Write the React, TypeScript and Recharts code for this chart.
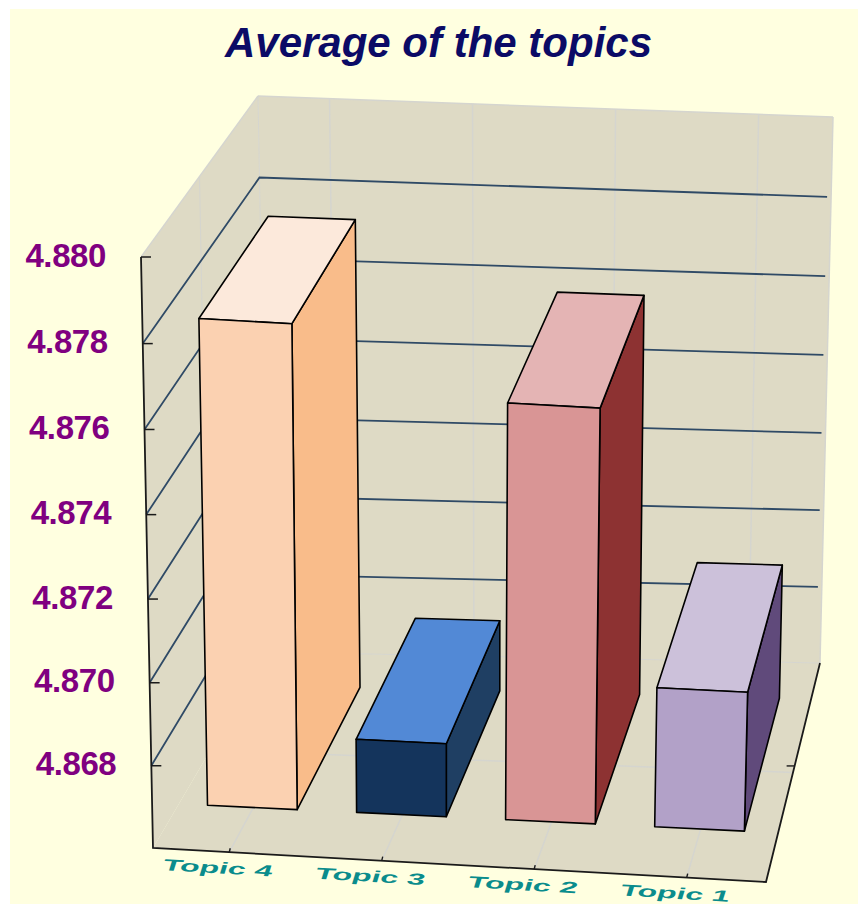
import React from 'react';
import { BarChart, Bar, XAxis, YAxis, Customized } from 'recharts';

const TITLE = 'Average of the topics';
const categories = ['Topic 4', 'Topic 3', 'Topic 2', 'Topic 1'];
const averages = [4.87775, 4.86781, 4.87615, 4.86945];
const yTicks = [4.868, 4.87, 4.872, 4.874, 4.876, 4.878, 4.88];
const yDomain: [number, number] = [4.866, 4.88];
const frontFaces = ['#FBD1B1', '#14345C', '#D99595', '#B2A1C8'];
const topFaces = ['#FCE9DB', '#5289D6', '#E4B4B4', '#CCC1DA'];
const sideFaces = ['#F9BC8A', '#1F3F63', '#8D3232', '#604A7B'];

const rows = categories.map((name, i) => ({ name, value: averages[i] }));

// Plot rectangle handed to Recharts; its x/y are then projected into the 3D box.
const CW = 858, CH = 904, L = 100, T = 100, R = 100, B = 100;
const PW = CW - L - R, PH = CH - T - B;
const W0 = 0.225, W1 = 0.835;

type Pt = [number, number];
const C = {
  flb: [153, 848] as Pt, frb: [766, 882] as Pt, blb: [268, 652] as Pt, brb: [820, 663] as Pt,
  flt: [141, 257] as Pt, frt: [781, 297] as Pt, blt: [258, 96] as Pt, brt: [833, 117] as Pt,
};
const mix = (a: Pt, b: Pt, t: number): Pt => [a[0] + (b[0] - a[0]) * t, a[1] + (b[1] - a[1]) * t];
const P = (u: number, v: number, w: number): Pt => {
  const vv = v - 0.03 * v * (1 - v);
  const bottom = mix(mix(C.flb, C.frb, u), mix(C.blb, C.brb, u), w);
  const top = mix(mix(C.flt, C.frt, u), mix(C.blt, C.brt, u), w);
  return mix(bottom, top, vv);
};
const U = (px: number) => ((px - L) / PW) * 0.995 - 0.002;
const V = (py: number) => (T + PH - py) / PH;
const vOf = (val: number) => (val - yDomain[0]) / (yDomain[1] - yDomain[0]);
const pts = (list: Pt[]) => list.map((p) => p[0].toFixed(1) + ',' + p[1].toFixed(1)).join(' ');

const Seg = ({ a, b, stroke, w }: { a: Pt; b: Pt; stroke: string; w: number }) => (
  <line x1={a[0]} y1={a[1]} x2={b[0]} y2={b[1]} stroke={stroke} strokeWidth={w} />
);

const WALL = '#DEDAC5';
const EDGE = '#D5D5CF';
const GRID = '#2F4A66';
const AXIS = '#1A1A1A';

const Box = () => {
  const centers = categories.map((_, i) => (i + 0.5) / categories.length);
  return (
    <g>
      <text x={438.5} y={57} textAnchor="middle" fontFamily="Liberation Sans, Arial, sans-serif"
        fontWeight="bold" fontStyle="italic" fontSize={42} fill="#0B0B66">{TITLE}</text>
      <polygon points={pts([C.blb, C.brb, C.brt, C.blt])} fill={WALL} />
      <polygon points={pts([C.flb, C.blb, C.blt, C.flt])} fill={WALL} />
      <polygon points={pts([C.flb, C.frb, C.brb, C.blb])} fill={WALL} />
      <Seg a={C.flt} b={C.blt} stroke={EDGE} w={1.5} />
      <Seg a={C.blt} b={C.brt} stroke={EDGE} w={1.5} />
      <Seg a={C.brt} b={C.brb} stroke={EDGE} w={1.5} />
      <Seg a={P(0, 0, 0.5)} b={P(0, 1, 0.5)} stroke={EDGE} w={1} />
      <Seg a={C.blb} b={C.blt} stroke={EDGE} w={1} />
      <Seg a={P(0, 0, 0.5)} b={P(1, 0, 0.5)} stroke={EDGE} w={1.5} />
      <Seg a={C.blb} b={C.brb} stroke={EDGE} w={1} />
      {centers.map((u) => (
        <g key={u}>
          <Seg a={P(u * 0.995, 0, 0)} b={P(u * 0.995, 0, 1)} stroke={EDGE} w={1.5} />
          <Seg a={P(u * 0.995, 0, 1)} b={P(u * 0.995, 1, 1)} stroke={EDGE} w={1.5} />
        </g>
      ))}
      {yTicks.slice(0, -1).map((t) => {
        const v = vOf(t);
        return (
          <g key={t}>
            <polyline points={pts([P(0, v, 0), P(0, v, 1), P(0.993, v, 1)])} fill="none" stroke={GRID} strokeWidth={1.8} />
          </g>
        );
      })}
      <polyline points={pts([C.flt, C.flb, C.frb, C.brb])} fill="none" stroke={AXIS} strokeWidth={1.8} />
      {(() => {
        const a = P(1, 0, 0.53);
        return <Seg a={a} b={[a[0] - 8, a[1]]} stroke={AXIS} w={1.4} />;
      })()}
    </g>
  );
};

const YTick = (props: any) => {
  const val = props.payload.value as number;
  const a = P(0, vOf(val), 0);
  return (
    <g>
      <line x1={a[0]} y1={a[1]} x2={a[0] + 10} y2={a[1]} stroke={AXIS} strokeWidth={1.5} />
      <text x={a[0] - 35} y={a[1] - 2} textAnchor="end" dominantBaseline="central"
        fontFamily="Liberation Sans, Arial, sans-serif" fontWeight="bold" fontSize={33} letterSpacing={-0.4} fill="#800080">
        {val.toFixed(3)}
      </text>
    </g>
  );
};

const XTick = (props: any) => {
  const u = ((props.x as number) - L) / PW * 0.995;
  const a = P(u, 0, 0);
  return (
    <g>
      <line x1={a[0]} y1={a[1]} x2={a[0] + 1} y2={a[1] - 4} stroke={AXIS} strokeWidth={1.4} />
      <text transform={`translate(${a[0] - 13},${a[1] + 21}) rotate(3.4) skewX(-14) scale(2,1)`}
        textAnchor="middle" fontFamily="Liberation Sans, Arial, sans-serif" fontWeight="bold"
        fontSize={16} fill="#0A8C8C">
        {props.payload.value}
      </text>
    </g>
  );
};

const Bar3D = (props: any) => {
  const { x, y, width, index } = props;
  const u0 = U(x), u1 = U(x + width), v = V(y);
  const front = [P(u0, 0, W0), P(u1, 0, W0), P(u1, v, W0), P(u0, v, W0)];
  const side = [P(u1, 0, W0), P(u1, 0, W1), P(u1, v, W1), P(u1, v, W0)];
  const top = [P(u0, v, W0), P(u1, v, W0), P(u1, v, W1), P(u0, v, W1)];
  const common = { stroke: '#000', strokeWidth: 1.6, strokeLinejoin: 'round' as const };
  return (
    <g>
      <polygon points={pts(side)} fill={sideFaces[index]} {...common} />
      <polygon points={pts(top)} fill={topFaces[index]} {...common} />
      <polygon points={pts(front)} fill={frontFaces[index]} {...common} />
    </g>
  );
};

export default function App() {
  return (
    <div style={{ position: 'absolute', left: 0, top: 0, width: CW, height: CH, background: '#fff', overflow: 'hidden' }}>
      <div style={{ position: 'absolute', left: 10, top: 9, right: 0, bottom: 0, background: '#FFFFE0' }} />
      <div style={{ position: 'absolute', left: 0, top: 0 }}>
        <BarChart width={CW} height={CH} data={rows} margin={{ left: L - 1, top: T, right: R, bottom: B - 1 }} barCategoryGap="20%">
          <Customized component={Box} />
          <XAxis dataKey="name" height={1} axisLine={false} tickLine={false} tick={XTick} interval={0} />
          <YAxis type="number" domain={yDomain} ticks={yTicks} width={1} axisLine={false} tickLine={false} tick={YTick} />
          <Bar dataKey="value" isAnimationActive={false} shape={Bar3D} />
        </BarChart>
      </div>
    </div>
  );
}
